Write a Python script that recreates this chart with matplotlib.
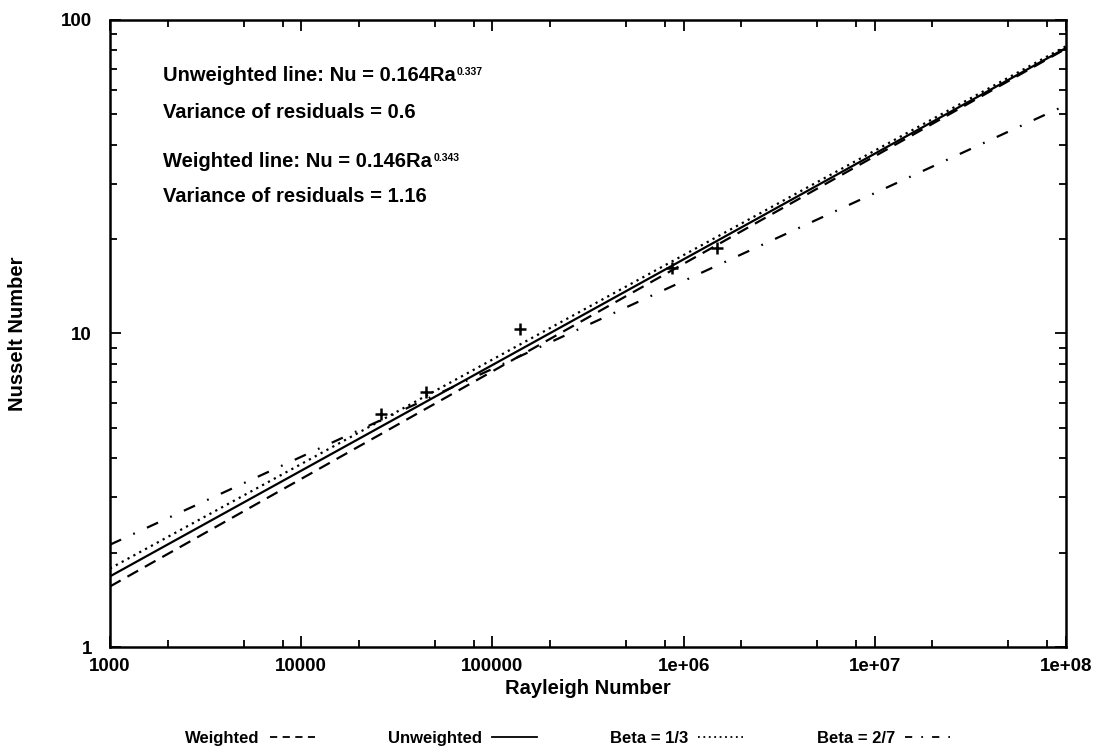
import matplotlib
matplotlib.use("Agg")
import matplotlib.pyplot as plt
from matplotlib.ticker import FixedLocator, FixedFormatter, NullFormatter
from matplotlib.lines import Line2D

plt.rcParams['font.family'] = ['Liberation Sans', 'DejaVu Sans']
plt.rcParams['font.weight'] = 'bold'

# Messpunkte
ra_pts = [2.6e4, 4.5e4, 1.39e5, 8.7e5, 1.5e6]
nu_pts = [5.55, 6.5, 10.3, 16.2, 18.8]

# Geraden (Endpunkte bei Ra = 1e3 und 1e8)
ra_line = [1e3, 1e8]
nu_weighted = [1.56, 81.0]
nu_unweighted = [1.68, 81.4]
nu_beta13 = [1.78, 82.5]
nu_beta27 = [2.12, 53.5]

xticks = [1e3, 1e4, 1e5, 1e6, 1e7, 1e8]
xticklabels = ['1000', '10000', '100000', '1e+06', '1e+07', '1e+08']
yticks = [1, 10, 100]
yticklabels = ['1', '10', '100']

fig = plt.figure(figsize=(11.01, 7.54), dpi=100)
ax = fig.add_axes([0.0999, 0.1419, 0.8683, 0.8316])

lw = 1.6
ax.plot(ra_line, nu_weighted, color='black', lw=lw, linestyle=(0, (5.5, 3.5)))
ax.plot(ra_line, nu_unweighted, color='black', lw=lw, linestyle='-')
ax.plot(ra_line, nu_beta13, color='black', lw=lw, linestyle=(0, (1, 2)))
ax.plot(ra_line, nu_beta27, color='black', lw=lw, linestyle=(0, (5.5, 6, 0.8, 6)))
ax.plot(ra_pts, nu_pts, linestyle='none', marker='+', color='black',
        markersize=9, markeredgewidth=1.8)

ax.set_xscale('log')
ax.set_yscale('log')
ax.set_xlim(1e3, 1e8)
ax.set_ylim(1, 100)

ax.xaxis.set_major_locator(FixedLocator(xticks))
ax.xaxis.set_major_formatter(FixedFormatter(xticklabels))
xminor = [m * d for d in [1e3, 1e4, 1e5, 1e6, 1e7] for m in (2, 5, 8)]
ax.xaxis.set_minor_locator(FixedLocator(xminor))
ax.xaxis.set_minor_formatter(NullFormatter())
ax.yaxis.set_major_locator(FixedLocator(yticks))
ax.yaxis.set_major_formatter(FixedFormatter(yticklabels))
yminor = [m * d for d in [1, 10] for m in range(2, 10)]
ax.yaxis.set_minor_locator(FixedLocator(yminor))
ax.yaxis.set_minor_formatter(NullFormatter())

ax.tick_params(which='both', direction='in', top=True, right=True, width=1.3,
               labelsize=13.5)
ax.tick_params(axis='x', pad=8)
ax.tick_params(axis='y', pad=13)
ax.tick_params(which='major', length=8)
ax.tick_params(which='minor', length=5)
for s in ax.spines.values():
    s.set_linewidth(1.8)

ax.set_xlabel('Rayleigh Number', fontsize=14.5, fontweight='bold', labelpad=3)
ax.set_ylabel('Nusselt Number', fontsize=14.5, fontweight='bold')
ax.yaxis.set_label_coords(-0.087, 0.5)

# Beschriftung mit kleinen Exponenten
fs = 14.5
lines = [
    (0.912, 'Unweighted line: Nu = 0.164Ra', '0.337'),
    (0.853, 'Variance of residuals = 0.6', None),
    (0.775, 'Weighted line: Nu = 0.146Ra', '0.343'),
    (0.719, 'Variance of residuals = 1.16', None),
]
for ypos, txt, sup in lines:
    t = ax.text(0.0554, ypos, txt, transform=ax.transAxes, fontsize=fs, va='center')
    if sup:
        ax.annotate(sup, xy=(1, 1), xycoords=t, xytext=(1, -1),
                    textcoords='offset points', fontsize=7.5, va='top', ha='left')

handles = [
    Line2D([], [], color='black', lw=1.3, linestyle=(0, (4, 3))),
    Line2D([], [], color='black', lw=1.3, linestyle='-'),
    Line2D([], [], color='black', lw=1.3, linestyle=(0, (1, 2))),
    Line2D([], [], color='black', lw=1.3, linestyle=(0, (4, 5, 1, 5))),
]
labels = ['Weighted', 'Unweighted', 'Beta = 1/3', 'Beta = 2/7']
fig.legend(handles, labels, loc='center', bbox_to_anchor=(0.5155, 0.021), ncol=4,
           frameon=False, markerfirst=False, fontsize=12, handlelength=2.7,
           columnspacing=4.4, handletextpad=0.6)

fig.savefig('out.png', dpi=100)
